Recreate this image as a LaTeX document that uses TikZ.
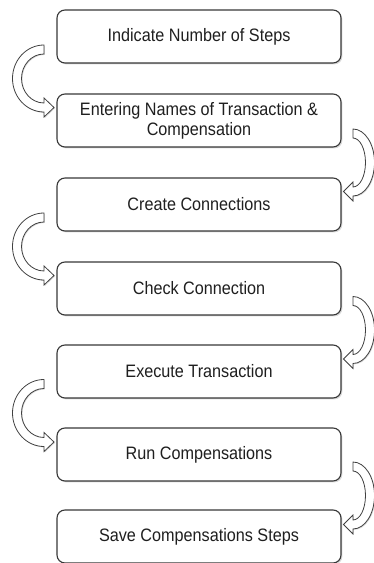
\documentclass[tikz,border=0pt]{standalone}
\usepackage{fontspec}
\setmainfont{Liberation Sans}[FakeStretch=0.9]
\usetikzlibrary{calc,shadows}

\tikzset{
  stepbox/.style={
    draw=black!78, line width=1.1pt, fill=white, rounded corners=8pt,
    minimum width=284pt, minimum height=53pt, inner sep=0pt,
    align=center, text=black!88,
    font=\fontsize{18}{20}\selectfont,
    drop shadow={shadow xshift=1.4pt, shadow yshift=-1.4pt, opacity=0.3}
  },
  blockarrow/.style={
    draw=black!75, line width=0.8pt, fill=white,
    drop shadow={shadow xshift=0.9pt, shadow yshift=-0.9pt, opacity=0.3}
  },
  % hollow U-turn arrow bulging to the left, tip pointing right
  uturnleft/.pic={
    \draw[blockarrow] (0,33.5)
      arc[start angle=90, end angle=270, x radius=31.5, y radius=33.5]
      -- (0,-38.5) -- (10,-29) -- (0,-19.5) -- (0,-24.5)
      arc[start angle=270, end angle=90, x radius=22.5, y radius=24.5]
      -- cycle;
  },
  % hollow U-turn arrow bulging to the right, tip pointing left
  uturnright/.pic={
    \draw[blockarrow] (0,33.5)
      arc[start angle=90, end angle=-90, x radius=21.5, y radius=33.5]
      -- (0,-38.5) -- (-9.5,-29) -- (0,-19.5) -- (0,-24.5)
      arc[start angle=-90, end angle=90, x radius=12.5, y radius=24.5]
      -- cycle;
  }
}

\begin{document}
\begin{tikzpicture}[x=1pt, y=1pt]
  \useasboundingbox (0,0) rectangle (374,563);

  % process steps
  \node[stepbox] (b1) at (199,526.5) {Indicate Number of Steps};
  \node[stepbox] (b2) at (199,442.5) {Entering Names of Transaction \&\\Compensation};
  \node[stepbox] (b3) at (199,358.5) {Create Connections};
  \node[stepbox] (b4) at (199,274.5) {Check Connection};
  \node[stepbox] (b5) at (199,191.5) {Execute Transaction};
  \node[stepbox] (b6) at (199,108.5) {Run Compensations};
  \node[stepbox] (b7) at (199,26.5)  {Save Compensations Steps};

  % columns of the turning arrows
  \coordinate (L) at (44,0);
  \coordinate (R) at (353,0);

  % centres of the gaps between consecutive steps
  \coordinate (g12) at ($(b1.south)!0.5!(b2.north)$);
  \coordinate (g23) at ($(b2.south)!0.5!(b3.north)$);
  \coordinate (g34) at ($(b3.south)!0.5!(b4.north)$);
  \coordinate (g45) at ($(b4.south)!0.5!(b5.north)$);
  \coordinate (g56) at ($(b5.south)!0.5!(b6.north)$);
  \coordinate (g67) at ($(b6.south)!0.5!(b7.north)$);

  % flow arrows, alternating sides
  \pic at (g12 -| L) {uturnleft};
  \pic at (g23 -| R) {uturnright};
  \pic at (g34 -| L) {uturnleft};
  \pic at (g45 -| R) {uturnright};
  \pic at (g56 -| L) {uturnleft};
  \pic at (g67 -| R) {uturnright};
\end{tikzpicture}
\end{document}
